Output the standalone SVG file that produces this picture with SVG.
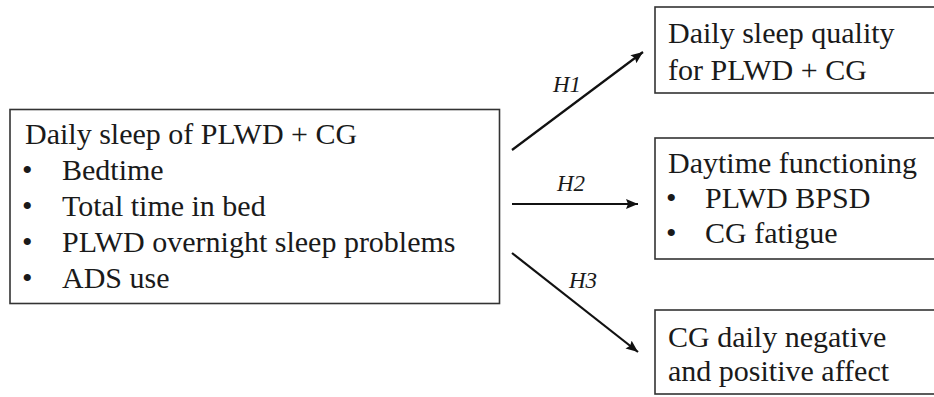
<svg xmlns="http://www.w3.org/2000/svg" width="934" height="397" viewBox="0 0 934 397">
<style>
.box{fill:#fff;stroke:#333;stroke-width:1.6}
.t{font-family:"Liberation Serif","Times New Roman",serif;font-size:30px;fill:#1a1a1a}
.h{font-family:"Liberation Serif","Times New Roman",serif;font-size:23px;font-style:italic;fill:#1a1a1a}
.c{stroke:#111;stroke-width:2.2;fill:none;marker-end:url(#ah)}
</style>
<defs>
<marker id="ah" viewBox="0 0 12 10" refX="12" refY="5" markerWidth="13" markerHeight="10" markerUnits="userSpaceOnUse" orient="auto">
<path d="M0,0 L12,5 L0,10 L2,5 z" fill="#111"/>
</marker>
</defs>
<rect width="934" height="397" fill="#fff"/>
<g id="source">
<rect class="box" x="10" y="109.5" width="489.5" height="194"/>
<text class="t" x="25" y="144">Daily sleep of PLWD + CG</text>
<text class="t" x="22" y="180">•</text><text class="t" x="62" y="180">Bedtime</text>
<text class="t" x="22" y="216">•</text><text class="t" x="62" y="216">Total time in bed</text>
<text class="t" x="22" y="252">•</text><text class="t" x="62" y="252">PLWD overnight sleep problems</text>
<text class="t" x="22" y="288">•</text><text class="t" x="62" y="288">ADS use</text>
</g>
<g id="quality">
<rect class="box" x="655" y="7" width="290" height="86"/>
<text class="t" x="668" y="43">Daily sleep quality</text>
<text class="t" x="668" y="80">for PLWD + CG</text>
</g>
<g id="daytime">
<rect class="box" x="655" y="138" width="290" height="121"/>
<text class="t" x="668" y="173">Daytime functioning</text>
<text class="t" x="666" y="208">•</text><text class="t" x="705" y="208">PLWD BPSD</text>
<text class="t" x="666" y="243">•</text><text class="t" x="705" y="243">CG fatigue</text>
</g>
<g id="affect">
<rect class="box" x="655" y="310" width="290" height="84"/>
<text class="t" x="668" y="347">CG daily negative</text>
<text class="t" x="668" y="381">and positive affect</text>
</g>
<g id="connectors">
<line class="c" x1="512" y1="150" x2="643" y2="52"/>
<line class="c" x1="512" y1="204" x2="638" y2="204"/>
<line class="c" x1="512" y1="253" x2="638" y2="352"/>
<text class="h" x="553" y="92">H1</text>
<text class="h" x="557" y="191">H2</text>
<text class="h" x="569" y="288">H3</text>
</g>
</svg>
